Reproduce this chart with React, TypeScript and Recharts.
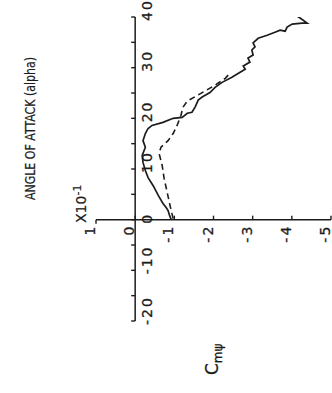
import React from 'react';
import { LineChart, Line, XAxis, YAxis, ReferenceLine } from 'recharts';

// angle of attack (deg) and Cm (x10^-1)
const solidAlpha = [0.0, 1.0, 1.8, 2.4, 3.2, 4.8, 6.7, 8.3, 9.7, 11.3, 12.7, 14.3, 15.6, 17.0, 18.0, 18.6, 19.2, 20.0, 20.2, 21.0, 21.2, 22.2, 23.6, 24.2, 25.1, 26.1, 27.1, 28.1, 29.1, 29.7, 30.3, 31.1, 31.9, 32.5, 33.5, 34.1, 34.9, 35.8, 36.4, 37.0, 37.4, 37.2, 38.0, 38.6, 38.8, 38.8, 39.8, 40.2, 40.2, 40.2];
const solidCm = [-0.92, -0.87, -0.84, -0.79, -0.71, -0.59, -0.46, -0.33, -0.26, -0.2, -0.18, -0.26, -0.2, -0.26, -0.33, -0.43, -0.71, -0.97, -1.2, -1.33, -1.45, -1.53, -1.61, -1.71, -1.91, -2.04, -2.22, -2.47, -2.68, -2.81, -2.76, -2.93, -2.88, -3.01, -2.98, -3.06, -3.01, -3.14, -3.37, -3.57, -3.7, -3.83, -3.88, -4.01, -4.26, -4.39, -4.21, -4.13, -3.88, -3.62];

const dashedAlpha = [0.2, 2.8, 5.3, 8.1, 10.7, 13.1, 14.3, 15.6, 17.0, 18.6, 20.6, 22.2, 23.4, 24.4, 25.5, 26.7, 27.9, 28.9];
const dashedCm = [-0.97, -0.89, -0.82, -0.74, -0.69, -0.61, -0.66, -0.84, -0.97, -1.07, -1.17, -1.22, -1.33, -1.56, -1.81, -2.07, -2.3, -2.42];

const alphaTicks = [-20, -15, -10, -5, 0, 5, 10, 15, 20, 25, 30, 35, 40];
const alphaLabels = [-20, -10, 0, 10, 20, 30, 40];
const cmTicks = [1, 0, -1, -2, -3, -4, -5];

const solidData = solidAlpha.map((a, i) => ({ alpha: a, cm: solidCm[i] }));
const dashedData = dashedAlpha.map((a, i) => ({ alpha: a, cm: dashedCm[i] }));

// chart drawn in its original (unrotated) orientation, then turned 90deg ccw
const W = 393;
const H = 332;
const M = { top: 96, right: 17, bottom: 0, left: 71 };
const AXIS_SIZE = 1;
const plotW = W - M.left - M.right - AXIS_SIZE;
const plotH = H - M.top - M.bottom - AXIS_SIZE;
const X0 = M.left + AXIS_SIZE + plotW * (20 / 60); // alpha = 0
const Y0 = M.top + plotH * (1 / 6); // cm = 0

const INK = '#1c1c1c';
const FONT = '"DejaVu Sans", sans-serif';

const AlphaTick = (props: any) => {
  const { x, payload } = props;
  const v = payload.value;
  return (
    <g>
      <line x1={x} x2={x} y1={Y0 - 4} y2={Y0} stroke={INK} strokeWidth={1.4} />
      {alphaLabels.includes(v) && (
        <text x={x - 4} y={Y0 + 17} textAnchor="start" fontSize={14} letterSpacing={2} fill={INK} stroke={INK} strokeWidth={0.3} fontFamily={FONT}>
          {v}
        </text>
      )}
    </g>
  );
};

const CmTick = (props: any) => {
  const { y, payload } = props;
  const v = payload.value;
  const left = v === 1;
  return (
    <g>
      <line x1={X0} x2={left ? X0 - 4 : X0 + 4} y1={y} y2={y} stroke={INK} strokeWidth={1.4} />
      <text x={X0 - 5} y={y - 1} textAnchor="end" fontSize={14} letterSpacing={2} fill={INK} stroke={INK} strokeWidth={0.3} fontFamily={FONT}>
        {v}
      </text>
    </g>
  );
};

export default function App() {
  return (
    <div style={{ position: 'absolute', left: 0, top: 0, width: 332, height: 393, overflow: 'hidden', background: '#fff' }}>
      <div
        style={{
          position: 'absolute',
          left: 0,
          top: 0,
          width: W,
          height: H,
          transformOrigin: '0 0',
          transform: `translateY(${W}px) rotate(-90deg)`,
        }}
      >
        <LineChart width={W} height={H} margin={M}>
          <XAxis
            dataKey="alpha"
            type="number"
            domain={[-20, 40]}
            ticks={alphaTicks}
            interval={0}
            height={AXIS_SIZE}
            axisLine={false}
            tickLine={false}
            tick={AlphaTick}
            allowDataOverflow
          />
          <YAxis
            type="number"
            domain={[-5, 1]}
            ticks={cmTicks}
            interval={0}
            width={AXIS_SIZE}
            axisLine={false}
            tickLine={false}
            tick={CmTick}
            allowDataOverflow
          />
          <ReferenceLine y={0} stroke={INK} strokeWidth={1.5} />
          <ReferenceLine x={0} stroke={INK} strokeWidth={1.5} />
          <Line
            data={dashedData}
            dataKey="cm"
            stroke={INK}
            strokeWidth={1.6}
            strokeDasharray="6 4"
            dot={false}
            isAnimationActive={false}
          />
          <Line
            data={solidData}
            dataKey="cm"
            stroke={INK}
            strokeWidth={1.7}
            dot={false}
            isAnimationActive={false}
          />
        </LineChart>
        <svg width={W} height={H} style={{ position: 'absolute', left: 0, top: 0, pointerEvents: 'none' }}>
          <text x={193} y={35} fontSize={14} textLength={143} lengthAdjust="spacingAndGlyphs" fill={INK} stroke={INK} strokeWidth={0.2} fontFamily={FONT}>
            ANGLE OF ATTACK (alpha)
          </text>
          <text x={170} y={86} fontSize={14} fill={INK} stroke={INK} strokeWidth={0.2} fontFamily={FONT}>
            X10<tspan dy={-5} fontSize={11}>-1</tspan>
          </text>
          <text x={18} y={218} fontSize={17} fill={INK} stroke={INK} strokeWidth={0.3} fontFamily={FONT}>
            C<tspan dy={4} fontSize={12}>mψ</tspan>
          </text>
        </svg>
      </div>
    </div>
  );
}
